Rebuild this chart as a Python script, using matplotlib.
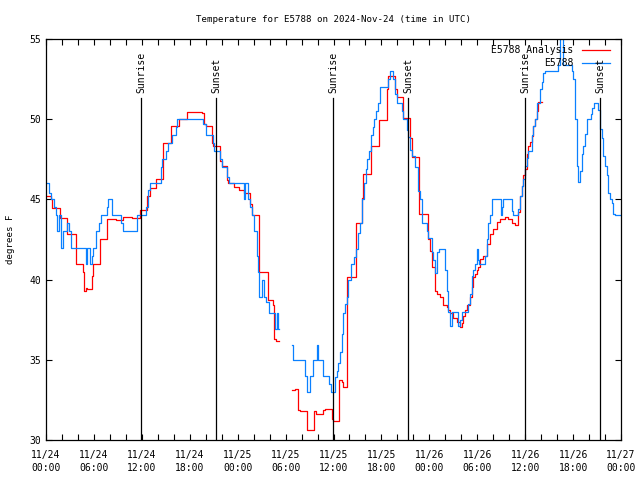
import numpy as np
import matplotlib
matplotlib.use('Agg')
import matplotlib.pyplot as plt
import matplotlib.dates as mdates

# hours after 2024-11-24 00:00 UTC, step start values; nan = gap
obs_h = [0.0, 0.38, 0.58, 1.0, 1.21, 1.42, 1.63, 1.92, 2.17, 2.67, 2.88, 3.17, 5.05, 5.18,
         5.47, 5.72, 5.89, 6.30, 6.64, 6.93, 7.68, 7.8, 8.31, 9.35, 9.64, 11.44, 12.56, 12.81,
         13.02, 14.36, 14.57, 14.98, 15.28, 15.82, 16.24, 16.45, 19.70, 20.03, 20.87, 21.08,
         21.79, 22.0, 22.62, 22.91, 24.79, 24.92, 25.33, 25.54, 25.79, 26.09, 26.38, 26.59,
         26.71, 27.0, 27.3, 27.55, 27.96, 28.67, 28.96, 29.09, 29.22, 30.76, 30.88, 32.43,
         32.64, 33.05, 33.39, 33.97, 34.1, 34.72, 35.48, 35.64, 36.19, 36.39, 36.6, 36.81,
         37.02, 37.23, 37.44, 37.65, 37.86, 38.15, 38.56, 38.77, 39.11, 39.32, 39.61, 39.82,
         40.03, 40.23, 40.44, 40.65, 40.9, 41.11, 41.32, 41.61, 41.82, 42.86, 43.07, 43.49,
         43.7, 43.91, 44.53, 44.74, 45.16, 45.37, 45.58, 45.79, 46.2, 46.62, 46.83, 47.04,
         47.66, 47.87, 48.29, 48.5, 48.71, 48.92, 49.25, 49.96, 50.17, 50.38, 50.58, 50.79,
         51.63, 51.84, 52.05, 52.88, 53.09, 53.3, 53.51, 53.72, 53.92, 54.13, 54.22, 54.97,
         55.18, 55.39, 55.6, 55.81, 56.98, 57.14, 57.27, 58.31, 58.52, 59.15, 59.35, 59.56,
         59.77, 59.98, 60.19, 60.4, 60.82, 61.02, 61.23, 61.44, 61.86, 62.07, 62.28, 62.48,
         64.15, 64.36, 64.78, 65.82, 66.03, 66.24, 66.45, 66.66, 66.87, 67.08, 67.28, 67.49,
         67.7, 68.24, 68.41, 68.66, 69.16, 69.37, 69.58, 69.79, 70.0, 70.21, 70.41, 70.62,
         70.83, 71.04, 71.25, 72.0]
obs_t = [46.0, 45.4, 45.0, 44.5, 44.0, 43.0, 44.0, 42.0, 43.0, 43.5, 43.0, 42.0, 41.0, 42.0,
         41.0, 41.5, 42.0, 43.0, 43.5, 44.0, 44.5, 45.0, 44.0, 43.5, 43.0, 44.0, 44.5, 45.6,
         46.0, 47.0, 47.5, 48.0, 48.5, 49.0, 49.5, 50.0, 49.7, 49.0, 48.5, 48.0,
         47.5, 47.0, 46.4, 46.0, 45.0, 46.0, 45.0, 44.5, 44.0, 43.0, 41.5, 40.5,
         38.9, 40.0, 38.9, 38.6, 37.9, 36.9, 37.9, 36.9, np.nan, 35.9, 35.0, 34.0,
         33.0, 34.0, 35.0, 35.9, 35.0, 34.0, 33.5, 33.0, 33.9, 34.3, 34.8, 35.5,
         36.6, 37.9, 38.5, 38.9, 40.0, 41.0, 41.4, 41.9, 42.9, 43.5, 45.0, 46.0,
         46.9, 47.5, 48.0, 49.0, 49.5, 50.0, 50.5, 51.0, 52.0, 52.5, 53.0, 52.5,
         51.6, 51.0, 50.5, 50.0, 49.3, 48.9, 48.1, 47.7, 47.0, 45.5, 45.0, 43.5,
         43.0, 42.6, 41.7, 41.2, 40.4, 41.7, 41.9, 40.6, 39.3, 38.0, 37.1, 38.0,
         37.1, 37.5, 38.0, 38.5, 39.1, 40.2, 40.6, 41.0, 41.9, 41.2, 41.0, 41.5,
         42.5, 43.5, 44.0, 45.0, 44.0, 44.5, 45.0, 44.3, 44.0, 44.4, 45.2, 45.85,
         46.3, 47.1, 47.6, 48.0, 49.0, 49.6, 50.0, 51.0, 51.9, 52.3, 52.9, 53.0,
         53.4, 55.5, 53.4, 53.0, 52.5, 50.0, 47.1, 46.1, 46.8, 47.8, 48.35, 49.1,
         50.0, 50.3, 50.7, 51.0, 50.6, 49.4, 48.8, 47.7, 47.1, 46.5, 45.4, 45.0,
         44.8, 44.1, 44.0, 44.0]

ana_h = [0.0, 0.58, 0.79, 1.71, 2.67, 3.71, 4.67, 4.76, 4.97, 5.18, 5.72, 5.89, 6.72, 7.68,
         8.72, 9.64, 10.73, 11.73, 12.69, 13.02, 13.82, 14.69, 15.69, 16.65, 17.7, 19.57,
         19.74, 20.03, 20.78, 20.95, 21.79, 22.0, 22.62, 22.83, 23.58, 24.16, 24.83, 25.54,
         25.75, 26.71, 27.75, 28.38, 28.59, 28.8, 29.22, 30.76, 31.18, 31.59, 31.8, 32.64,
         33.56, 33.81, 34.1, 34.72, 34.93, 35.77, 35.98, 36.73, 37.02, 37.23, 37.73, 38.77,
         39.61, 39.73, 40.65, 41.74, 42.66, 42.86, 43.7, 43.91, 44.66, 45.58, 45.79, 46.75,
         47.87, 48.08, 48.29, 48.71, 48.92, 49.33, 49.75, 50.17, 50.38, 50.58, 51.0, 51.42,
         51.84, 52.05, 52.25, 52.46, 52.67, 53.09, 53.3, 53.51, 53.72, 53.92, 54.13, 54.35,
         54.76, 55.18, 55.6, 56.02, 56.43, 56.85, 57.48, 57.89, 58.31, 58.73, 59.15, 59.35,
         59.56, 59.77, 59.98, 60.19, 60.4, 60.61, 60.82, 61.02, 61.23, 61.44, 61.65, 62.07]
ana_t = [45.2, 45.0, 44.45, 43.85, 42.85, 41.0, 40.5, 39.3, 39.5, 39.4, 40.2, 41.0, 42.5, 43.8,
         43.7, 43.9, 43.85, 44.35, 45.2, 45.7, 46.25, 48.5, 49.6, 50.0, 50.45, 50.4,
         49.7, 49.6, 48.5, 48.3, 47.4, 47.1, 46.2, 46.05, 45.8, 45.6, 45.4, 44.7,
         44.0, 40.5, 38.7, 38.4, 36.3, 36.2, np.nan, 33.1, 33.15, 31.85, 31.8, 30.6,
         31.8, 31.6, 31.65, 31.9, 31.95, 31.3, 31.2, 33.75, 33.6, 33.3, 40.14, 43.5,
         45.1, 46.6, 48.3, 49.95, 51.9, 52.7, 51.9, 51.4, 50.05, 48.8, 47.65, 44.1,
         42.5, 41.8, 40.8, 39.3, 39.1, 38.93, 38.42, 38.3, 38.1, 37.9, 37.6, 37.38,
         37.07, 37.28, 37.7, 38.1, 38.42, 38.93, 39.55, 40.17, 40.38, 40.59, 40.8, 41.3,
         41.5, 42.2, 42.85, 43.15, 43.6, 43.8, 43.9, 43.8, 43.5, 43.4, 44.2, 45.2,
         45.85, 46.5, 46.9, 47.8, 48.35, 48.55, 48.97, 49.6, 50.0, 50.5, 51.05, 51.05]

sun_h = [11.94, 21.30, 35.97, 45.36, 59.97, 69.37]
sun_lbl = ['Sunrise', 'Sunset', 'Sunrise', 'Sunset', 'Sunrise', 'Sunset']

t0 = np.datetime64('2024-11-24T00:00')


def to_time(hours):
    mins = np.round(np.array(hours) * 60).astype(int)
    return (t0 + mins.astype('timedelta64[m]')).astype('datetime64[ms]').astype(object)


mono = 'DejaVu Sans Mono'
fs = 6.6
plt.rcParams['font.family'] = mono
plt.rcParams['font.size'] = fs

fig = plt.figure(figsize=(6.4, 4.8), dpi=100)
ax = fig.add_axes([46 / 640, 40 / 480, 575 / 640, 401 / 480])

ax.plot(to_time(ana_h), ana_t, color='#ff0000', lw=0.9, drawstyle='steps-post')
ax.plot(to_time(obs_h), obs_t, color='#0a80ff', lw=0.9, drawstyle='steps-post')

for h, lbl in zip(sun_h, sun_lbl):
    tt = to_time([h])[0]
    ax.plot([tt, tt], [30, 51.3], color='black', lw=0.9)
    ax.text(tt, 51.65, lbl, rotation=90, ha='center', va='bottom', fontsize=fs + 0.4)

ax.set_xlim(to_time([0])[0], to_time([72])[0])
ax.set_ylim(30, 55)
ax.set_yticks([30, 35, 40, 45, 50, 55])
ax.xaxis.set_major_locator(mdates.HourLocator(byhour=[0, 6, 12, 18]))
ax.xaxis.set_minor_locator(mdates.HourLocator(byhour=range(0, 24, 2)))
ax.xaxis.set_major_formatter(mdates.DateFormatter('%m/%d\n%H:%M'))
ax.tick_params(which='both', direction='in', top=True, right=True, length=4, width=0.8,
               labelsize=fs + 0.4)
ax.tick_params(axis='x', pad=7)
for lab in ax.get_xticklabels():
    lab.set_linespacing(1.4)
for s in ax.spines.values():
    s.set_linewidth(0.9)

ax.set_ylabel('degrees F', fontsize=fs, labelpad=10)
ax.set_title('Temperature for E5788 on 2024-Nov-24 (time in UTC)', fontsize=fs, pad=12)

# key, top right inside the plot like gnuplot
ax.text(0.917, 0.973, 'E5788 Analysis', transform=ax.transAxes, ha='right', va='center',
        fontsize=fs + 0.4)
ax.text(0.917, 0.940, 'E5788', transform=ax.transAxes, ha='right', va='center',
        fontsize=fs + 0.4)
ax.plot([0.932, 0.981], [0.973, 0.973], transform=ax.transAxes, color='#ff0000', lw=0.9)
ax.plot([0.932, 0.981], [0.940, 0.940], transform=ax.transAxes, color='#0a80ff', lw=0.9)

fig.savefig('out.png', dpi=100)
